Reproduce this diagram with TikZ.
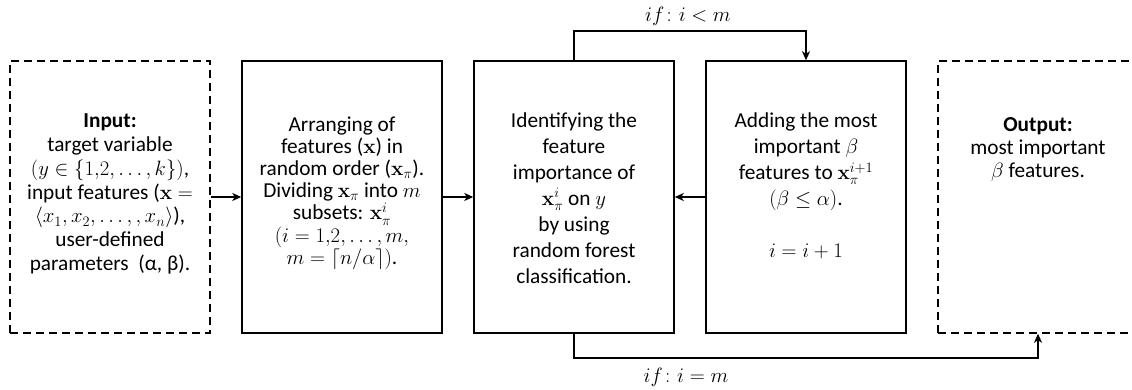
\documentclass[tikz,border=0pt]{standalone}
\usepackage{amsmath}
\usepackage[no-math]{fontspec}
\setmainfont{Carlito}
\usetikzlibrary{arrows.meta}
\begin{document}
\begin{tikzpicture}[x=1pt,y=-1pt,
  box/.style={draw, line width=1.5pt, minimum width=200pt, minimum height=272pt, inner sep=0pt},
  dbox/.style={box, dash pattern=on 8pt off 5pt},
  txt/.style={align=center, inner sep=0pt, font=\fontsize{21.3}{#1}\selectfont},
  arr/.style={line width=1.5pt, -{Stealth[length=9pt,width=8pt,inset=2.5pt]}},
  lbl/.style={inner sep=0pt, font=\fontsize{21.3}{24}\selectfont}]
\useasboundingbox (0,0) rectangle (1132,390);
\clip (0,0) rectangle (1132,390);

\node[dbox] (b1) at (110,197) {};
\node[box]  (b2) at (342,197) {};
\node[box]  (b3) at (574,197) {};
\node[box]  (b4) at (806,197) {};
\node[dbox] (b5) at (1038,197) {};

\node[txt=23.9] (t1) at (110,194) {\textbf{Input:}\\target variable\\$(y\in\{1{,}2,\dots,k\})$,\\input features ($\mathbf{x} =$\\$\langle x_1,x_2,\dots,,x_n\rangle$),\\user-defined\\parameters\ \ (α, β).};
\node[txt=22.2] (t2) at (342,193) {Arranging of\\features ($\mathbf{x}$) in\\random order ($\mathbf{x}_\pi$).\\Dividing $\mathbf{x}_\pi$ into $m$\\subsets: $\mathbf{x}_\pi^i$\\$(i = 1{,}2,\dots,m,$\\$m = \lceil n/\alpha\rceil)$.};
\node[txt=26] (t3) at (574,198) {Identifying the\\feature\\importance of\\$\mathbf{x}_\pi^i$ on $y$\\by using\\random forest\\classification.};
\node[txt=26] (t4) at (806,186) {Adding the most\\important $\beta$\\features to $\mathbf{x}_\pi^{i+1}$\\$(\beta\le\alpha)$.\\[26pt]$i=i+1$};
\node[txt=23] (t5) at (1038,150) {\textbf{Output:}\\most important\\$\beta$ features.};

\node[lbl] (l1) at (688,16) {$if\colon i<m$};
\node[lbl] (l2) at (686,377) {$if\colon i=m$};

\draw[arr] (b1) -- (b2);
\draw[arr] (b2) -- (b3);
\draw[arr] (b4) -- (b3);
\draw[arr] (b3.north) -- ++(0,-29) -| (b4.north);
\draw[arr] (b3.south) -- ++(0,24) -| (b5.south);
\end{tikzpicture}
\end{document}
